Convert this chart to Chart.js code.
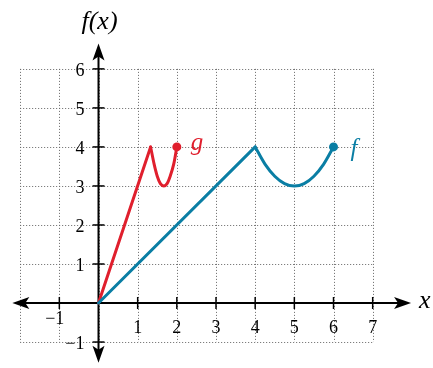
<!DOCTYPE html>
<html>
<head>
<meta charset="utf-8">
<script src="https://cdn.jsdelivr.net/npm/chart.js@4"></script>
<style>
  html, body { margin: 0; padding: 0; background: #fff; }
  #wrap { width: 433px; height: 368px; position: relative; }
</style>
</head>
<body>
<div id="wrap"><canvas id="chart"></canvas></div>
<script>
// Values
const fLineX = [0, 4];
const fLineY = [0, 4];
const fCurveX = [4, 4.25, 4.5, 4.75, 5, 5.25, 5.5, 5.75, 6];
const fCurveY = [4, 3.56, 3.25, 3.06, 3, 3.06, 3.25, 3.56, 4];
const gLineX = [0, 1.33];
const gLineY = [0, 4];
const gCurveX = [1.33, 1.42, 1.5, 1.58, 1.67, 1.75, 1.83, 1.92, 2];
const gCurveY = [4, 3.56, 3.25, 3.06, 3, 3.06, 3.25, 3.56, 4];
const fEnd = [6, 4];
const gEnd = [2, 4];

const xTicks = [-1, 1, 2, 3, 4, 5, 6, 7];
const yTicks = [-1, 1, 2, 3, 4, 5, 6];
const gridX = [-2, -1, 0, 1, 2, 3, 4, 5, 6, 7];
const gridY = [-1, 0, 1, 2, 3, 4, 5, 6];

const F_COLOR = '#0a7ea4';
const G_COLOR = '#e01f2d';

const pts = (xs, ys) => xs.map((x, i) => ({ x, y: ys[i] }));

function lineSet(data, color, curved) {
    return {
        data,
        borderColor: color,
        backgroundColor: color,
        borderWidth: 3,
        pointRadius: 0,
        tension: 0,
        cubicInterpolationMode: curved ? 'monotone' : 'default',
        borderCapStyle: 'round',
        borderJoinStyle: 'miter'
    };
}

// grid, axes, arrows, ticks and text drawn from the chart's own scales
const axesPlugin = {
    id: 'axes',
    beforeDatasetsDraw(chart) {
        const { ctx, scales: { x, y } } = chart;
        const px = v => x.getPixelForValue(v);
        const py = v => y.getPixelForValue(v);
        ctx.save();

        // dotted grid
        ctx.strokeStyle = '#666';
        ctx.lineWidth = 1;
        ctx.setLineDash([1, 2]);
        gridX.forEach(v => {
            ctx.beginPath();
            ctx.moveTo(Math.round(px(v)) + 0.5, py(6));
            ctx.lineTo(Math.round(px(v)) + 0.5, py(-1));
            ctx.stroke();
        });
        gridY.forEach(v => {
            ctx.beginPath();
            ctx.moveTo(px(-2), Math.round(py(v)) + 0.5);
            ctx.lineTo(px(7), Math.round(py(v)) + 0.5);
            ctx.stroke();
        });
        ctx.setLineDash([]);

        // axes
        ctx.strokeStyle = '#000';
        ctx.fillStyle = '#000';
        ctx.lineWidth = 2;
        const x0 = px(0), y0 = py(0);
        const left = px(-2.2), right = px(7.98), top = py(6.65), bottom = py(-1.53);
        ctx.beginPath();
        ctx.moveTo(left + 10, y0); ctx.lineTo(right - 10, y0);
        ctx.moveTo(x0, top + 10); ctx.lineTo(x0, bottom - 10);
        ctx.stroke();

        // arrow heads
        const head = (tx, ty, dx, dy) => {
            const L = 17, W = 6, n = 4;
            const bx = tx - dx * L, by = ty - dy * L;
            ctx.beginPath();
            ctx.moveTo(tx, ty);
            ctx.lineTo(bx - dy * W, by + dx * W);
            ctx.lineTo(tx - dx * (L - n), ty - dy * (L - n));
            ctx.lineTo(bx + dy * W, by - dx * W);
            ctx.closePath();
            ctx.fill();
        };
        head(left, y0, -1, 0);
        head(right, y0, 1, 0);
        head(x0, top, 0, -1);
        head(x0, bottom, 0, 1);

        // tick marks
        ctx.lineWidth = 1.5;
        xTicks.forEach(v => {
            ctx.beginPath();
            ctx.moveTo(px(v), y0 - 6); ctx.lineTo(px(v), y0 + 6);
            ctx.stroke();
        });
        yTicks.forEach(v => {
            ctx.beginPath();
            ctx.moveTo(x0 - 6, py(v)); ctx.lineTo(x0 + 6, py(v));
            ctx.stroke();
        });

        // tick labels
        ctx.font = '18px "Liberation Serif", serif';
        ctx.textBaseline = 'middle';
        xTicks.forEach(v => {
            if (v < 0) {
                ctx.textAlign = 'right';
                ctx.fillText('\u2212' + Math.abs(v), px(v) + 5, y0 + 16);
            } else {
                ctx.textAlign = 'center';
                ctx.fillText(String(v), px(v), y0 + 25);
            }
        });
        ctx.textAlign = 'right';
        yTicks.forEach(v => {
            const t = v < 0 ? '\u2212' + Math.abs(v) : String(v);
            ctx.fillText(t, x0 - 14, py(v) + 2);
        });

        // axis titles
        ctx.font = 'italic 26px "Liberation Serif", serif';
        ctx.textAlign = 'center';
        ctx.fillText('f(x)', x0 + 1, 22);
        ctx.textAlign = 'left';
        ctx.fillText('x', right + 8, y0 - 2);
        ctx.restore();
    },
    afterDatasetsDraw(chart) {
        const { ctx, scales: { x, y } } = chart;
        ctx.save();
        ctx.font = 'italic 25px "Liberation Serif", serif';
        ctx.textBaseline = 'middle';
        ctx.textAlign = 'left';
        ctx.fillStyle = G_COLOR;
        ctx.fillText('g', x.getPixelForValue(gEnd[0]) + 14, y.getPixelForValue(gEnd[1]) - 4);
        ctx.fillStyle = F_COLOR;
        ctx.fillText('f', x.getPixelForValue(fEnd[0]) + 17, y.getPixelForValue(fEnd[1]) + 2);
        ctx.restore();
    }
};

new Chart(document.getElementById('chart'), {
    type: 'line',
    data: {
        datasets: [
            lineSet(pts(fLineX, fLineY), F_COLOR, false),
            lineSet(pts(fCurveX, fCurveY), F_COLOR, true),
            lineSet(pts(gLineX, gLineY), G_COLOR, false),
            lineSet(pts(gCurveX, gCurveY), G_COLOR, true),
            { data: [{ x: fEnd[0], y: fEnd[1] }], showLine: false, pointRadius: 4.5,
              pointBackgroundColor: F_COLOR, pointBorderWidth: 0 },
            { data: [{ x: gEnd[0], y: gEnd[1] }], showLine: false, pointRadius: 4.5,
              pointBackgroundColor: G_COLOR, pointBorderWidth: 0 }
        ]
    },
    options: {
        responsive: true,
        maintainAspectRatio: false,
        animation: false,
        layout: { padding: 0 },
        plugins: { legend: { display: false }, tooltip: { enabled: false } },
        scales: {
            x: { type: 'linear', min: -2.4, max: 8.425, display: false },
            y: { type: 'linear', min: -1.55, max: 7.65, display: false }
        }
    },
    plugins: [axesPlugin]
});
</script>
</body>
</html>
